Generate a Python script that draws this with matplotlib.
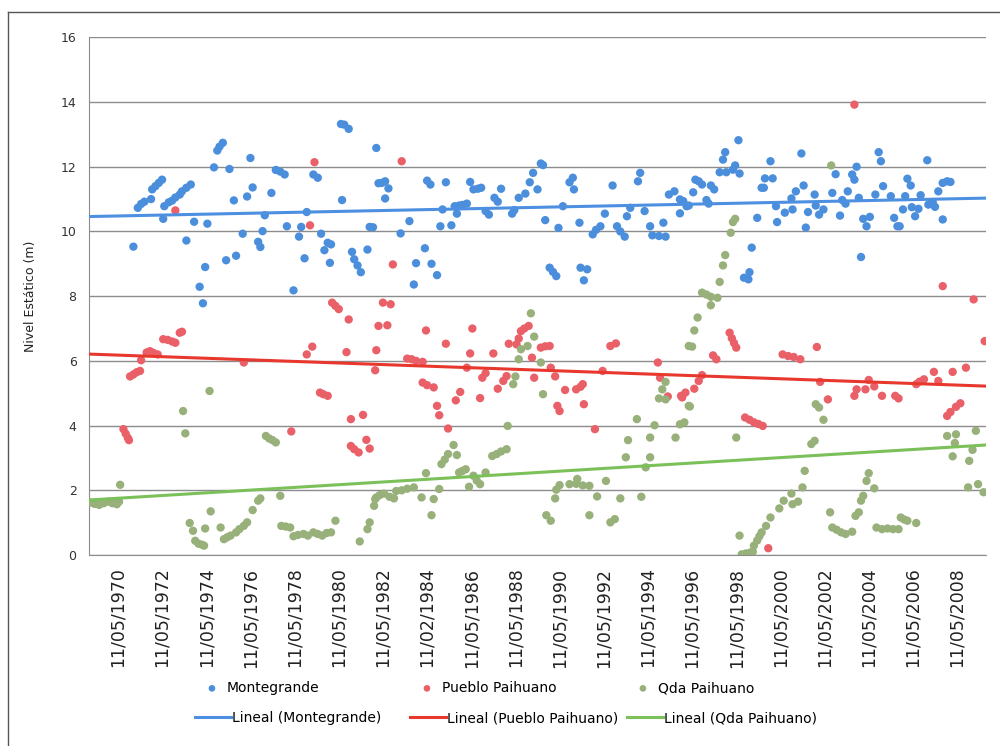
import numpy as np
import matplotlib
matplotlib.use("Agg")
import matplotlib.pyplot as plt
from matplotlib.lines import Line2D

# Nivel estatico (m) vs fecha (anios decimales)
montegrande = [
    (1970.7, 9.53), (1970.9, 10.73), (1971.05, 10.85), (1971.2, 10.92), (1971.5, 11.0),
    (1971.55, 11.3), (1971.7, 11.4), (1971.85, 11.5), (1972.0, 11.6), (1972.05, 10.39),
    (1972.1, 10.78), (1972.3, 10.9), (1972.45, 10.95), (1972.6, 11.05), (1972.8, 11.14),
    (1972.9, 11.24), (1973.1, 11.35), (1973.3, 11.45), (1973.1, 9.72), (1973.45, 10.3),
    (1973.7, 8.29), (1973.85, 7.78), (1973.95, 8.9), (1974.05, 10.24), (1974.35, 11.98),
    (1974.5, 12.5), (1974.6, 12.62), (1974.75, 12.74), (1974.9, 9.11), (1975.05, 11.93),
    (1975.25, 10.96), (1975.35, 9.25), (1975.65, 9.93), (1975.85, 11.08), (1976.0, 12.27),
    (1976.1, 11.36), (1976.35, 9.68), (1976.45, 9.52), (1976.55, 10.01), (1976.65, 10.5),
    (1976.95, 11.19), (1977.15, 11.9), (1977.35, 11.85), (1977.55, 11.76), (1977.65, 10.16),
    (1977.95, 8.18), (1978.2, 9.84), (1978.3, 10.14), (1978.45, 9.17), (1978.55, 10.6),
    (1978.85, 11.76), (1979.05, 11.66), (1979.2, 9.93), (1979.35, 9.42), (1979.5, 9.65),
    (1979.65, 9.6), (1979.6, 9.03), (1980.1, 13.32), (1980.25, 13.3), (1980.45, 13.17),
    (1980.15, 10.97), (1980.6, 9.37), (1980.7, 9.14), (1980.85, 8.95), (1981.0, 8.74),
    (1981.3, 9.44), (1981.4, 10.14), (1981.55, 10.13), (1981.7, 12.58), (1981.8, 11.49),
    (1981.95, 11.5), (1982.1, 11.55), (1982.25, 11.33), (1982.1, 11.02), (1982.8, 9.94),
    (1983.2, 10.32), (1983.5, 9.02), (1983.4, 8.36), (1983.9, 9.48), (1984.0, 11.57),
    (1984.15, 11.45), (1984.2, 9.0), (1984.45, 8.65), (1984.6, 10.16), (1984.7, 10.68),
    (1984.85, 11.52), (1985.1, 10.19), (1985.25, 10.78), (1985.35, 10.55), (1985.45, 10.8),
    (1985.6, 10.82), (1985.8, 10.86), (1985.95, 11.53), (1986.1, 11.3), (1986.3, 11.32),
    (1986.45, 11.35), (1986.65, 10.63), (1986.8, 10.52), (1987.05, 11.04), (1987.2, 10.92),
    (1987.35, 11.32), (1987.85, 10.55), (1987.95, 10.66), (1988.15, 11.04), (1988.45, 11.17),
    (1988.65, 11.52), (1988.8, 11.81), (1989.0, 11.3), (1989.15, 12.1), (1989.25, 12.05),
    (1989.35, 10.35), (1989.55, 8.88), (1989.7, 8.75), (1989.85, 8.62), (1989.95, 10.11),
    (1990.15, 10.78), (1990.45, 11.52), (1990.6, 11.66), (1990.65, 11.3), (1990.9, 10.27),
    (1990.95, 8.88), (1991.1, 8.49), (1991.25, 8.83), (1991.5, 9.91), (1991.65, 10.05),
    (1991.85, 10.16), (1992.05, 10.55), (1992.4, 11.42), (1992.6, 10.16), (1992.75, 10.0),
    (1992.95, 9.84), (1993.05, 10.47), (1993.2, 10.73), (1993.55, 11.55), (1993.65, 11.81),
    (1993.85, 10.63), (1994.1, 10.16), (1994.2, 9.88), (1994.5, 9.86), (1994.8, 9.84),
    (1994.7, 10.27), (1994.95, 11.14), (1995.2, 11.24), (1995.45, 10.56), (1995.6, 10.94),
    (1995.85, 10.8), (1995.45, 10.99), (1995.75, 10.78), (1996.05, 11.21), (1996.15, 11.6),
    (1996.3, 11.55), (1996.45, 11.45), (1996.65, 10.97), (1996.75, 10.86), (1996.85, 11.42),
    (1997.0, 11.3), (1997.25, 11.83), (1997.4, 12.22), (1997.5, 12.45), (1997.55, 11.83),
    (1997.85, 11.91), (1997.95, 12.04), (1998.15, 11.79), (1998.1, 12.82), (1998.35, 8.57),
    (1998.55, 8.52), (1998.6, 8.74), (1998.7, 9.5), (1998.95, 10.42), (1999.15, 11.35),
    (1999.25, 11.35), (1999.3, 11.64), (1999.65, 11.64), (1999.55, 12.17), (1999.8, 10.78),
    (1999.85, 10.29), (2000.2, 10.58), (2000.55, 10.68), (2000.5, 11.02), (2000.7, 11.24),
    (2000.95, 12.41), (2001.05, 11.42), (2001.15, 10.12), (2001.25, 10.6), (2001.55, 11.14),
    (2001.6, 10.8), (2001.75, 10.52), (2001.95, 10.68), (2002.35, 11.19), (2002.5, 11.77),
    (2002.7, 10.49), (2002.8, 10.97), (2002.95, 10.86), (2003.05, 11.24), (2003.25, 11.76),
    (2003.35, 11.6), (2003.45, 12.0), (2003.55, 11.04), (2003.65, 9.21), (2003.75, 10.39),
    (2004.05, 10.45), (2003.9, 10.16), (2004.3, 11.14), (2004.45, 12.45), (2004.55, 12.17),
    (2004.65, 11.4), (2005.0, 11.09), (2005.15, 10.42), (2005.3, 10.16), (2005.4, 10.16),
    (2005.55, 10.68), (2005.65, 11.09), (2005.75, 11.63), (2005.9, 11.42), (2005.95, 10.75),
    (2006.25, 10.7), (2006.1, 10.47), (2006.35, 11.12), (2006.65, 12.2), (2006.7, 10.83),
    (2007.0, 10.76), (2006.9, 10.9), (2007.15, 11.24), (2007.35, 10.37), (2007.35, 11.5),
    (2007.55, 11.55), (2007.7, 11.53),
]

pueblo_paihuano = [
    (1970.25, 3.89), (1970.35, 3.75), (1970.45, 3.62), (1970.5, 3.55), (1970.55, 5.52),
    (1970.7, 5.58), (1970.85, 5.65), (1971.0, 5.69), (1971.05, 6.02), (1971.3, 6.26),
    (1971.45, 6.3), (1971.6, 6.25), (1971.8, 6.2), (1972.05, 6.67), (1972.25, 6.65),
    (1972.45, 6.6), (1972.6, 6.56), (1972.8, 6.87), (1972.9, 6.9), (1972.6, 10.65),
    (1975.7, 5.95), (1977.85, 3.82), (1978.55, 6.2), (1978.8, 6.44), (1978.9, 12.14),
    (1978.7, 10.19), (1979.15, 5.02), (1979.3, 4.97), (1979.5, 4.92), (1979.7, 7.8),
    (1979.85, 7.7), (1980.0, 7.6), (1980.45, 7.28), (1980.35, 6.27), (1980.55, 4.2),
    (1981.1, 4.33), (1980.55, 3.37), (1980.7, 3.27), (1980.9, 3.17), (1981.25, 3.56),
    (1981.4, 3.29), (1981.65, 5.71), (1981.7, 6.33), (1981.8, 7.08), (1982.0, 7.8),
    (1982.35, 7.75), (1982.2, 7.1), (1982.85, 12.17), (1982.45, 8.98), (1983.1, 6.07),
    (1983.3, 6.05), (1983.5, 6.0), (1983.8, 5.97), (1983.95, 6.94), (1983.8, 5.33),
    (1984.0, 5.25), (1984.3, 5.18), (1984.45, 4.61), (1984.55, 4.32), (1984.85, 6.53),
    (1984.95, 3.91), (1985.3, 4.78), (1985.5, 5.04), (1985.8, 5.79), (1985.95, 6.23),
    (1986.05, 7.0), (1986.4, 4.85), (1986.5, 5.48), (1986.65, 5.62), (1987.0, 6.23),
    (1987.2, 5.14), (1987.45, 5.38), (1987.6, 5.53), (1987.7, 6.53), (1988.05, 6.51),
    (1988.15, 6.69), (1988.25, 6.92), (1988.4, 7.0), (1988.6, 7.08), (1988.75, 6.1),
    (1988.85, 5.48), (1989.15, 6.41), (1989.35, 6.45), (1989.55, 6.46), (1989.6, 5.79),
    (1989.8, 5.52), (1989.9, 4.61), (1990.0, 4.45), (1990.25, 5.1), (1990.75, 5.12),
    (1990.95, 5.2), (1991.05, 5.28), (1991.1, 4.66), (1991.6, 3.89), (1991.95, 5.69),
    (1992.3, 6.46), (1992.55, 6.54), (1994.45, 5.95), (1994.55, 5.48), (1994.9, 4.9),
    (1995.5, 4.92), (1995.7, 5.02), (1995.55, 4.87), (1996.1, 5.14), (1996.3, 5.38),
    (1996.45, 5.56), (1996.95, 6.17), (1997.1, 6.05), (1997.7, 6.87), (1997.8, 6.7),
    (1997.9, 6.55), (1998.0, 6.41), (1998.4, 4.25), (1998.6, 4.18), (1998.8, 4.1),
    (1999.0, 4.05), (1999.2, 3.99), (1999.45, 0.21), (2000.1, 6.2), (2000.35, 6.15),
    (2000.6, 6.12), (2000.9, 6.05), (2001.65, 6.43), (2001.8, 5.35), (2002.15, 4.81),
    (2003.35, 4.92), (2003.45, 5.12), (2003.85, 5.12), (2004.0, 5.41), (2004.25, 5.21),
    (2004.6, 4.92), (2005.2, 4.92), (2005.35, 4.84), (2006.15, 5.28), (2006.3, 5.36),
    (2006.5, 5.43), (2006.95, 5.66), (2007.15, 5.38), (2007.55, 4.3), (2007.7, 4.42),
    (2007.95, 4.58), (2008.15, 4.69), (2007.8, 5.66), (2008.4, 5.79), (2008.75, 7.9),
    (2009.25, 6.61), (2003.35, 13.92), (2007.35, 8.31),
]

qda_paihuano = [
    (1968.75, 1.62), (1968.95, 1.58), (1969.15, 1.55), (1969.35, 1.6), (1969.55, 1.65),
    (1969.75, 1.6), (1969.95, 1.57), (1970.05, 1.65), (1970.1, 2.17), (1972.95, 4.45),
    (1973.05, 3.76), (1974.15, 5.07), (1973.25, 0.99), (1973.4, 0.75), (1973.5, 0.44),
    (1973.65, 0.35), (1973.8, 0.32), (1973.9, 0.29), (1973.95, 0.82), (1974.2, 1.35),
    (1974.65, 0.85), (1974.8, 0.49), (1974.95, 0.55), (1975.1, 0.6), (1975.35, 0.7),
    (1975.5, 0.8), (1975.7, 0.9), (1975.85, 1.01), (1976.1, 1.39), (1976.35, 1.68),
    (1976.45, 1.75), (1976.7, 3.68), (1976.85, 3.6), (1977.0, 3.55), (1977.15, 3.48),
    (1977.35, 1.83), (1977.4, 0.9), (1977.6, 0.88), (1977.8, 0.85), (1977.95, 0.58),
    (1978.15, 0.62), (1978.4, 0.65), (1978.6, 0.6), (1978.85, 0.7), (1979.05, 0.65),
    (1979.25, 0.6), (1979.45, 0.68), (1979.65, 0.7), (1979.85, 1.06), (1980.95, 0.42),
    (1981.3, 0.8), (1981.4, 1.01), (1981.65, 1.73), (1981.7, 1.78), (1981.6, 1.52),
    (1981.85, 1.85), (1982.05, 1.9), (1982.3, 1.8), (1982.5, 1.75), (1982.6, 1.98),
    (1982.85, 2.0), (1983.1, 2.05), (1983.4, 2.09), (1983.75, 1.78), (1983.95, 2.53),
    (1984.2, 1.23), (1984.3, 1.73), (1984.55, 2.04), (1984.65, 2.81), (1984.8, 2.95),
    (1984.95, 3.12), (1985.2, 3.4), (1985.35, 3.09), (1985.45, 2.55), (1985.6, 2.6),
    (1985.75, 2.65), (1985.9, 2.11), (1986.1, 2.45), (1986.25, 2.3), (1986.4, 2.19),
    (1986.65, 2.55), (1986.95, 3.06), (1987.15, 3.12), (1987.35, 3.2), (1987.6, 3.27),
    (1987.65, 3.99), (1987.9, 5.28), (1988.0, 5.52), (1988.15, 6.05), (1988.25, 6.36),
    (1988.55, 6.46), (1988.7, 7.47), (1988.85, 6.75), (1989.15, 5.95), (1989.25, 4.97),
    (1989.4, 1.23), (1989.6, 1.06), (1989.8, 1.75), (1989.85, 2.02), (1990.0, 2.16),
    (1990.45, 2.19), (1990.75, 2.2), (1991.05, 2.15), (1991.35, 2.14), (1990.8, 2.35),
    (1991.35, 1.23), (1991.7, 1.81), (1992.1, 2.29), (1992.3, 1.01), (1992.5, 1.11),
    (1992.75, 1.75), (1993.0, 3.02), (1993.1, 3.55), (1993.5, 4.2), (1993.7, 1.8),
    (1993.9, 2.71), (1994.1, 3.02), (1994.1, 3.63), (1994.3, 4.01), (1994.5, 4.84),
    (1994.8, 4.81), (1994.65, 5.12), (1994.8, 5.35), (1995.25, 3.63), (1995.45, 4.04),
    (1995.65, 4.1), (1995.85, 4.61), (1995.9, 4.59), (1995.85, 6.46), (1996.0, 6.44),
    (1996.1, 6.94), (1996.25, 7.34), (1996.45, 8.11), (1996.65, 8.05), (1996.85, 7.98),
    (1997.15, 7.95), (1996.85, 7.72), (1997.25, 8.44), (1997.4, 8.95), (1997.5, 9.27),
    (1997.75, 9.96), (1997.85, 10.29), (1997.95, 10.39), (1998.0, 3.63), (1998.15, 0.6),
    (1998.25, 0.02), (1998.45, 0.05), (1998.65, 0.08), (1998.75, 0.1), (1998.8, 0.29),
    (1998.95, 0.45), (1999.05, 0.58), (1999.15, 0.7), (1999.35, 0.9), (1999.55, 1.16),
    (1999.95, 1.44), (2000.15, 1.68), (2000.5, 1.9), (2000.55, 1.57), (2000.8, 1.65),
    (2001.0, 2.09), (2001.1, 2.6), (2001.4, 3.43), (2001.55, 3.53), (2001.6, 4.66),
    (2001.75, 4.56), (2001.95, 4.18), (2002.3, 12.04), (2002.25, 1.32), (2002.35, 0.85),
    (2002.55, 0.78), (2002.75, 0.7), (2002.95, 0.65), (2003.25, 0.72), (2003.4, 1.21),
    (2003.55, 1.32), (2003.65, 1.68), (2003.75, 1.83), (2003.9, 2.29), (2004.0, 2.53),
    (2004.25, 2.06), (2004.35, 0.85), (2004.6, 0.8), (2004.85, 0.82), (2005.1, 0.8),
    (2005.35, 0.8), (2005.45, 1.16), (2005.6, 1.1), (2005.75, 1.06), (2006.15, 0.99),
    (2007.55, 3.68), (2007.95, 3.73), (2007.9, 3.46), (2007.8, 3.05), (2008.5, 2.09),
    (2008.55, 2.91), (2008.7, 3.25), (2008.85, 3.84), (2008.95, 2.19), (2009.2, 1.94),
]

series_names = ["Montegrande", "Pueblo Paihuano", "Qda Paihuano"]
# tendencia lineal (valor al inicio y al final del eje)
trend_start = [10.46, 6.21, 1.70]
trend_end = [11.03, 5.22, 3.40]

tick_years = list(range(1970, 2009, 2))
tick_labels = ["11/05/1970", "11/05/1972", "11/05/1974", "11/05/1976", "11/05/1978",
               "11/05/1980", "11/05/1982", "11/02/1984", "11/05/1986", "11/05/1988",
               "11/05/1990", "11/05/1992", "11/05/1994", "11/05/1996", "11/05/1998",
               "11/05/2000", "11/05/2002", "11/05/2004", "11/05/2006", "11/05/2008"]

x_min, x_max = 1968.69, 2009.31

dot_colors = ["#4b8fdc", "#ea6068", "#98b07a"]
line_colors = ["#4d8fe0", "#e8382e", "#7cc05a"]

fig = plt.figure(figsize=(10, 7.46), dpi=100)
ax = fig.add_axes([0.089, 0.256, 0.897, 0.694])

dots = []
lines = []
for data, name, dc, lc, t0, t1 in zip([montegrande, pueblo_paihuano, qda_paihuano],
                                      series_names, dot_colors, line_colors,
                                      trend_start, trend_end):
    arr = np.array(data)
    d = ax.scatter(arr[:, 0], arr[:, 1], s=36, color=dc, edgecolors="none",
                   zorder=3, label=name)
    dots.append(d)
    ln, = ax.plot([x_min, x_max], [t0, t1], color=lc, lw=2.2, zorder=4,
                  label="Lineal (%s)" % name)
    lines.append(ln)

ax.set_xlim(x_min, x_max)
ax.set_ylim(0, 16)
ax.set_yticks(np.arange(0, 17, 2))
ax.set_xticks(tick_years)
ax.set_xticklabels(tick_labels, rotation=90, fontsize=12.5, color="#222222")
ax.tick_params(axis="x", length=0, pad=9)
ax.tick_params(axis="y", length=0, pad=9, labelsize=9, labelcolor="#333333")
ax.grid(axis="y", color="#8c8c8c", lw=1)
ax.set_axisbelow(True)
for s in ["top", "right"]:
    ax.spines[s].set_visible(False)
for s in ["left", "bottom"]:
    ax.spines[s].set_color("#8c8c8c")
ax.set_ylabel("Nivel Estático (m)", fontsize=9, color="#222222")
ax.yaxis.set_label_coords(-0.058, 0.5)

# leyenda: una entrada por posicion, como en la hoja de Excel
marker_x = [205, 420, 636]
for h, x in zip(dots, marker_x):
    fig.legend(handles=[h], loc="center left", bbox_to_anchor=(x / 1000, 1 - 688 / 746),
               frameon=False, fontsize=10, handlelength=1, handletextpad=0.55,
               borderpad=0, borderaxespad=0, scatterpoints=1, markerscale=0.8)
line_x = [195, 410, 627]
for h, x in zip(lines, line_x):
    fig.legend(handles=[h], loc="center left", bbox_to_anchor=(x / 1000, 1 - 718 / 746),
               frameon=False, fontsize=10, handlelength=2.6, handletextpad=0.05,
               borderpad=0, borderaxespad=0)

# borde del area del grafico
fig.add_artist(Line2D([0.008, 0.008], [0, 1 - 12 / 746], transform=fig.transFigure,
                      color="#555555", lw=1))
fig.add_artist(Line2D([0.008, 1], [1 - 12 / 746, 1 - 12 / 746], transform=fig.transFigure,
                      color="#555555", lw=1))

fig.savefig("out.png", dpi=100)
